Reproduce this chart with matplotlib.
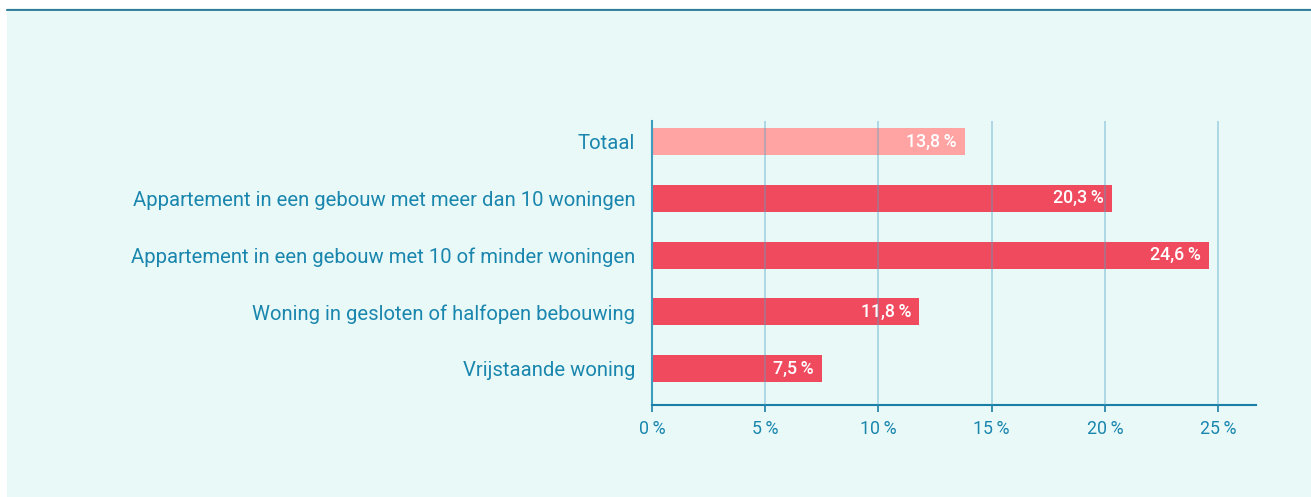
import matplotlib
matplotlib.use("Agg")
import matplotlib.pyplot as plt
from matplotlib.patches import Rectangle
from matplotlib.lines import Line2D

categories = [
    "Totaal",
    "Appartement in een gebouw met meer dan 10 woningen",
    "Appartement in een gebouw met 10 of minder woningen",
    "Woning in gesloten of halfopen bebouwing",
    "Vrijstaande woning",
]
values = [13.8, 20.3, 24.6, 11.8, 7.5]
bar_colors = ["#FFA3A3", "#F04A5F", "#F04A5F", "#F04A5F", "#F04A5F"]
xticks = [0, 5, 10, 15, 20, 25]

plt.rcParams['font.family'] = ['Roboto', 'DejaVu Sans']
W, H = 1311, 497
fig = plt.figure(figsize=(W / 100, H / 100), dpi=100, facecolor="white")

# background panel
fig.patches.append(Rectangle((7 / W, 0), 1 - 7 / W, (H - 10) / H, transform=fig.transFigure,
                             facecolor="#E8F9F8", edgecolor="none", zorder=-10))
fig.lines.append(Line2D([7 / W, 1], [(H - 8.5) / H] * 2, transform=fig.transFigure,
                        color="#8FC9DA", lw=1.0, zorder=-5))
fig.lines.append(Line2D([7 / W, 1], [(H - 9.8) / H] * 2, transform=fig.transFigure,
                        color="#1B6F8F", lw=1.2, zorder=-5))

ax = fig.add_axes([652 / W, (H - 405) / H, (1256 - 652) / W, (405 - 121) / H])
ax.set_facecolor("none")
ax.set_zorder(5)

text_color = "#1A86AE"
y = list(range(len(categories)))
ax.barh(y, values, height=0.475, color=bar_colors, zorder=2)
ax.set_ylim(4.64, -0.36)
ax.set_xlim(0, 26.67)

for xi in xticks[1:]:
    ax.axvline(xi, color="#4FA6C4", alpha=0.45, lw=1.2, zorder=3)

for yi, v in zip(y, values):
    ax.text(v - 0.35, yi, f"{v:.1f}".replace(".", ",") + "\u2009%", ha="right", va="center",
            color="white", fontsize=12.8, fontweight="medium", zorder=4)

ax.set_yticks(y)
ax.set_yticklabels(categories, fontsize=14.6, color=text_color)
ax.tick_params(axis="y", length=0, pad=12)
ax.set_xticks(xticks)
ax.set_xticklabels([f"{t}\u2009%" for t in xticks], fontsize=12.8, color=text_color)
ax.tick_params(axis="x", length=5, width=1.2, color="#1A7FA6", pad=6)

for s in ["top", "right"]:
    ax.spines[s].set_visible(False)
ax.spines["left"].set_color("#3C9DBE")
ax.spines["left"].set_linewidth(1.5)
ax.spines["bottom"].set_color("#1A7FA6")
ax.spines["bottom"].set_linewidth(1.5)

fig.savefig("out.png", dpi=100, facecolor="white")
